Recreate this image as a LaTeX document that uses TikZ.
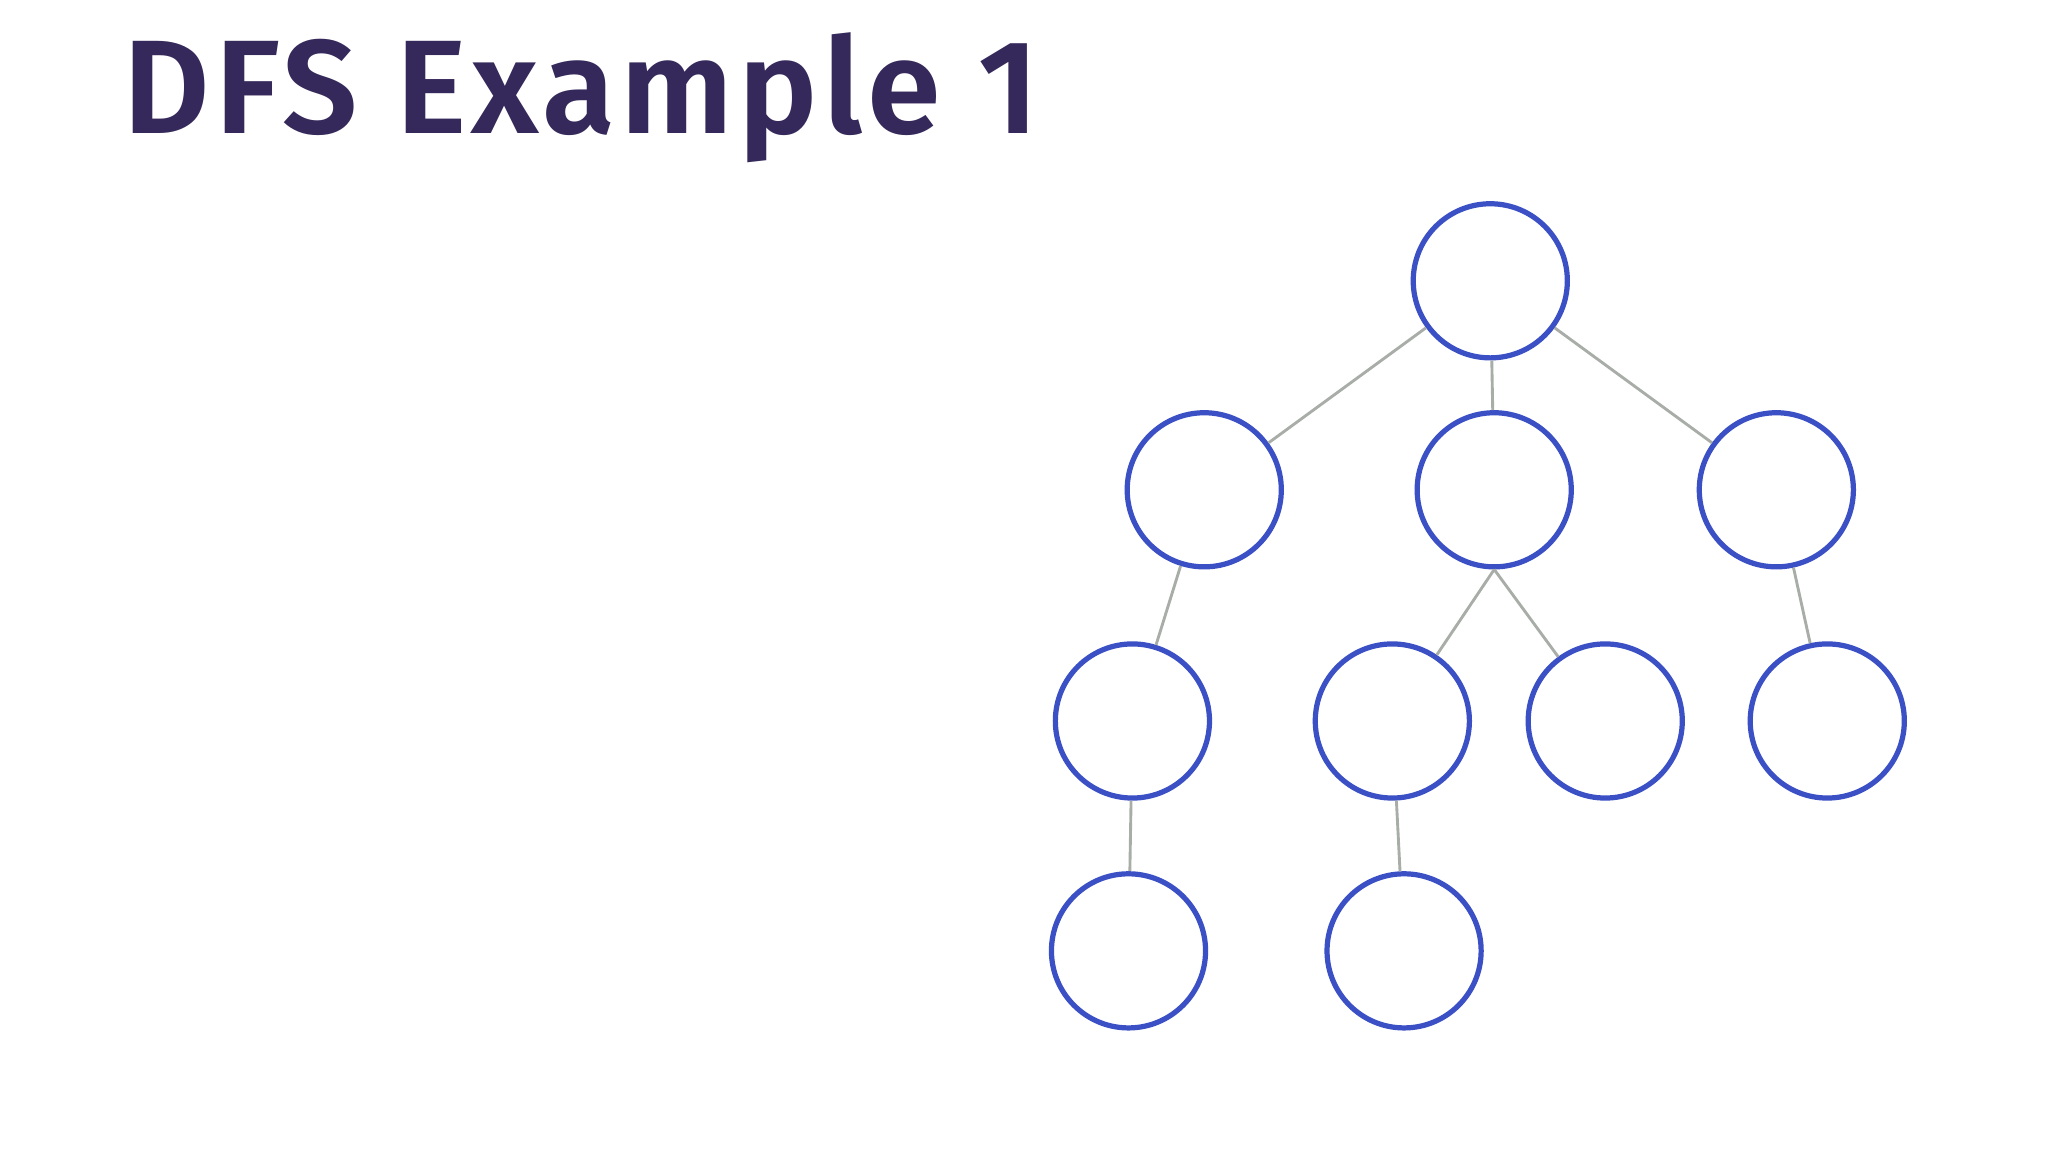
\documentclass[tikz,border=0pt]{standalone}
\usepackage{fontspec}
\setmainfont{Fira Sans}
\newfontfamily\titlefont[LetterSpace=4]{Fira Sans SemiBold}
\definecolor{titlec}{HTML}{35285A}
\definecolor{circc}{HTML}{3A50C4}
\definecolor{edgec}{HTML}{A8ADA8}
\begin{document}
\begin{tikzpicture}[x=0.5pt,y=-0.5pt,
  vert/.style={circle,draw=circc,line width=2pt,minimum size=118*0.5pt,inner sep=0pt},
  edge/.style={draw=edgec,line width=1.1pt}]
\useasboundingbox (0,0) rectangle (1568,882);
\node[anchor=base west,inner sep=0pt,text=titlec,font=\titlefont\fontsize{51}{60}\selectfont] (title) at (94,102) {DFS Example 1};
\node[vert] (r) at (1141,215) {};
\node[vert] (a) at (922,375) {};
\node[vert] (b) at (1144,375) {};
\node[vert] (c) at (1360,375) {};
\node[vert] (d) at (867,552) {};
\node[vert] (e) at (1066,552) {};
\node[vert] (f) at (1229,552) {};
\node[vert] (g) at (1399,552) {};
\node[vert] (h) at (864,728) {};
\node[vert] (i) at (1075,728) {};
\draw[edge] (r) -- (a);
\draw[edge] (r) -- (b);
\draw[edge] (r) -- (c);
\draw[edge] (a) -- (d);
\draw[edge] (b.south) -- (e);
\draw[edge] (b.south) -- (f);
\draw[edge] (c) -- (g);
\draw[edge] (d) -- (h);
\draw[edge] (e) -- (i);
\end{tikzpicture}
\end{document}
